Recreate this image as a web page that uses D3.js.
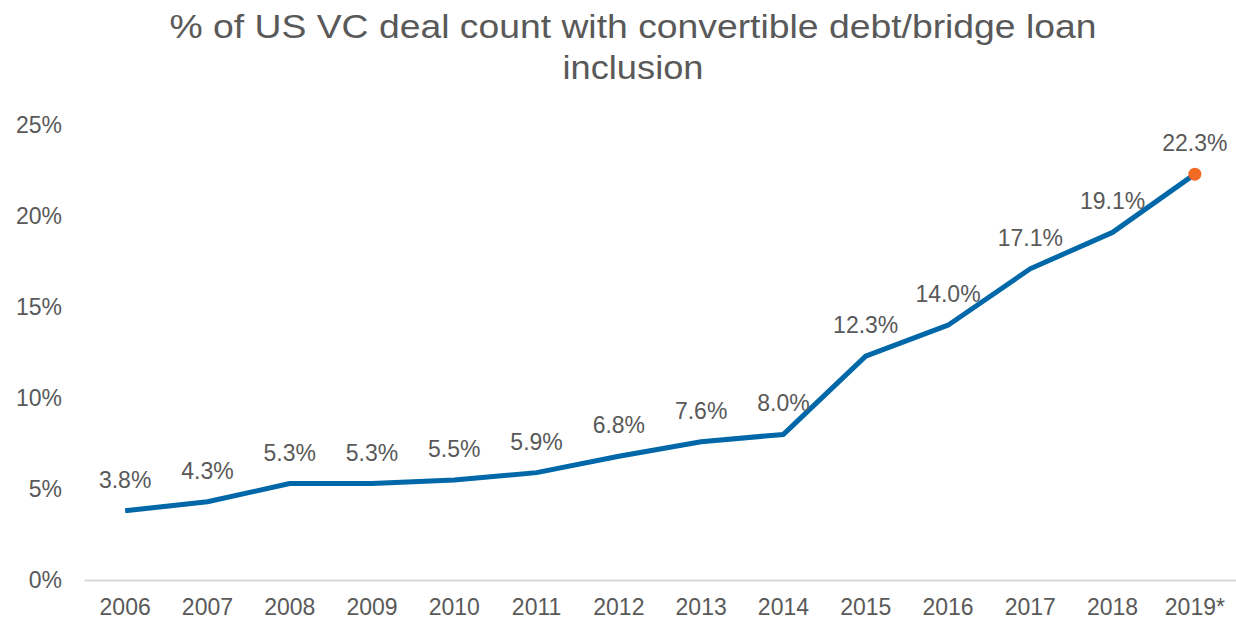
<!DOCTYPE html>
<html>
<head>
<meta charset="utf-8">
<script src="https://cdn.jsdelivr.net/npm/d3@7"></script>
<style>
  body { margin: 0; background: #fff; }
  svg text { font-family: "Liberation Sans", Arial, sans-serif; fill: #595959; }
</style>
</head>
<body>
<div id="canvas"></div>
<script>
var years = ['2006','2007','2008','2009','2010','2011','2012','2013','2014','2015','2016','2017','2018','2019*'];
var values = [3.8, 4.3, 5.3, 5.3, 5.5, 5.9, 6.8, 7.6, 8.0, 12.3, 14.0, 17.1, 19.1, 22.3];
var yTicks = [0, 5, 10, 15, 20, 25];
var titleLines = ['% of US VC deal count with convertible debt/bridge loan', 'inclusion'];
var titleWidths = [927, 141];

var W = 1236, H = 623;
var m = {t:125, r:0, b:43, l:84};
var w = W - m.l - m.r,
    h = H - m.t - m.b;

var svg = d3.select('#canvas')
    .append('svg')
    .attr('width', W)
    .attr('height', H);

// title (reference glyphs are a bit wider than Liberation Sans)
svg.append('g').selectAll('text')
    .data(titleLines)
    .enter().append('text')
    .attr('x', 633)
    .attr('y', function(d,i){ return 38 + i*41; })
    .attr('text-anchor', 'middle')
    .attr('textLength', function(d,i){ return titleWidths[i]; })
    .attr('lengthAdjust', 'spacingAndGlyphs')
    .style('font-size', '33px')
    .text(function(d){ return d; });

var plot = svg.append('g')
    .attr('transform', 'translate(' + m.l + ',' + m.t + ')');

var scaleX = d3.scaleBand()
    .domain(years)
    .range([0, w]);
var scaleY = d3.scaleLinear()
    .domain([0, 25])
    .range([h, 0]);

// y axis labels only
var axisY = d3.axisLeft(scaleY)
    .tickValues(yTicks)
    .tickSize(0)
    .tickPadding(22)
    .tickFormat(function(d){ return d + '%'; });
var gy = plot.append('g').call(axisY);
gy.select('.domain').remove();
gy.selectAll('text').style('font-size', '23px').attr('fill', '#595959');

// x axis
var axisX = d3.axisBottom(scaleX)
    .tickSize(0)
    .tickPadding(19);
var gx = plot.append('g')
    .attr('transform', 'translate(0,' + h + ')')
    .call(axisX);
gx.select('.domain').attr('stroke', '#d9d9d9').attr('stroke-width', 2);
gx.selectAll('text').style('font-size', '23px').attr('fill', '#595959');

var cx = function(d,i){ return scaleX(years[i]) + scaleX.bandwidth()/2; };

var line = d3.line()
    .x(cx)
    .y(function(d){ return scaleY(d); });

plot.append('path')
    .datum(values)
    .attr('d', line)
    .attr('fill', 'none')
    .attr('stroke', '#0068a8')
    .attr('stroke-width', 5)
    .attr('stroke-linejoin', 'round');

var last = values.length - 1;
plot.append('circle')
    .attr('cx', cx(values[last], last))
    .attr('cy', scaleY(values[last]))
    .attr('r', 6.5)
    .attr('fill', '#f26a24');

plot.selectAll('.lbl')
    .data(values)
    .enter().append('text')
    .attr('class', 'lbl')
    .attr('x', cx)
    .attr('y', function(d){ return scaleY(d) - 23; })
    .attr('text-anchor', 'middle')
    .style('font-size', '23px')
    .text(function(d){ return d.toFixed(1) + '%'; });
</script>
</body>
</html>
